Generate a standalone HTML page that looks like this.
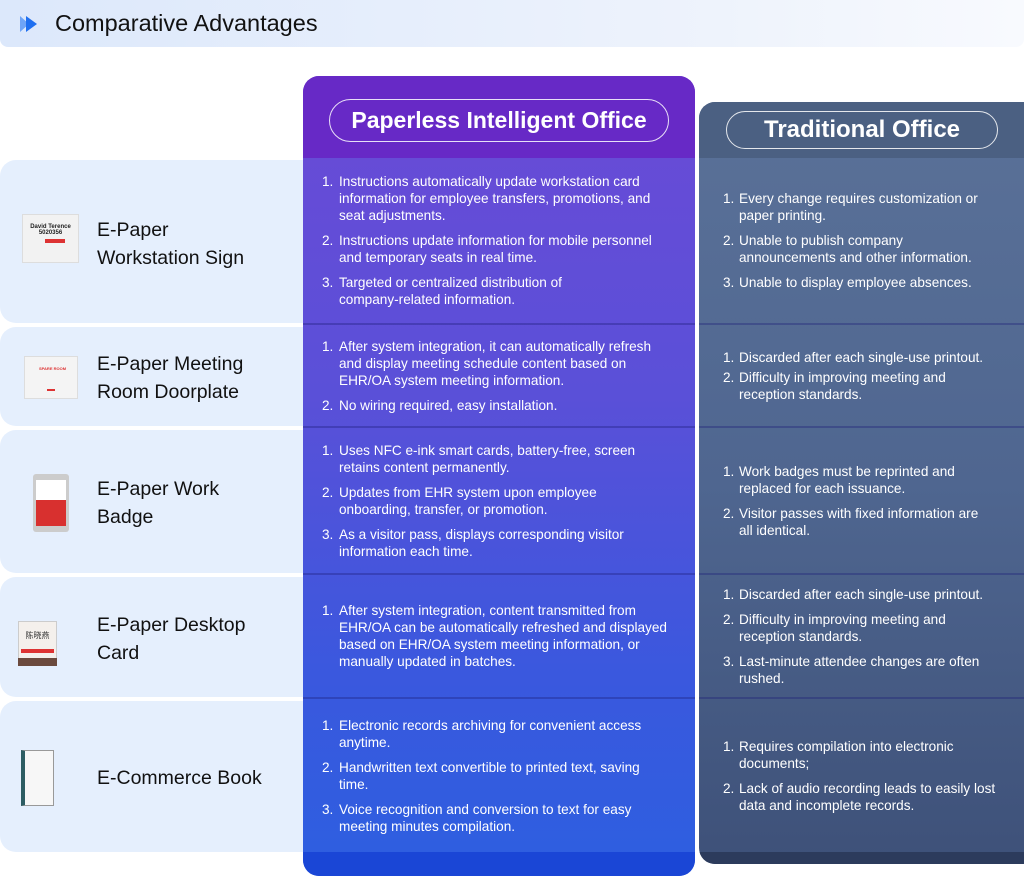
<!DOCTYPE html>
<html><head><meta charset="utf-8"><style>
*{margin:0;padding:0;box-sizing:border-box}
body{width:1024px;height:896px;background:#fff;position:relative;overflow:hidden;font-family:"Liberation Sans","Noto Sans CJK SC",sans-serif}
.hdr{position:absolute;left:0;top:0;width:1024px;height:47px;border-radius:0 0 8px 8px;background:linear-gradient(90deg,#dce8fb,#eef3fc 70%,#f8fafe)}
.hdr .t{position:absolute;left:55px;top:10px;font-size:23.5px;color:#111}
.row{position:absolute;left:0;width:310px;background:#e5effd;border-radius:16px 0 0 16px}
.lab{position:absolute;left:97px;font-size:19.5px;line-height:28px;color:#111}
.ico{position:absolute}
.pcol{position:absolute;left:303px;top:76px;width:392px;height:800px;border-radius:16px;overflow:hidden;background:linear-gradient(180deg,#6a4ad6 0%,#5a50d8 40%,#3a58de 75%,#2d5fe0 100%)}
.tcol{position:absolute;left:699px;top:102px;width:340px;height:762px;border-radius:16px;overflow:hidden;background:linear-gradient(180deg,#5a7198 0%,#4f6690 50%,#3e5179 100%)}
.cell{position:absolute;left:0;right:0;display:flex;flex-direction:column;justify-content:center;border-bottom:2px solid rgba(30,30,120,.35)}
.cell ol{list-style:none;color:#fff;font-size:13.6px;line-height:17px}
.cell li{position:relative;padding-left:36px;white-space:nowrap;margin:8px 0}
.cell li span{position:absolute;left:19px}
.tcol .cell li{padding-left:40px}
.tcol .cell li span{left:24px}
.pill{position:absolute;border:1.5px solid rgba(255,255,255,.85);border-radius:24px;color:#fff;font-weight:bold;text-align:center}
</style></head><body>
<div class="hdr">
<svg style="position:absolute;left:20px;top:15px" width="24" height="18"><polygon points="0,1 9,9 0,17" fill="#6ea4f7"/><polygon points="6,1 17,9 6,17" fill="#1f6ff0"/></svg>
<div class="t">Comparative Advantages</div></div>

<div class="row" style="top:160px;height:163px"></div>
<div class="row" style="top:327px;height:99px"></div>
<div class="row" style="top:430px;height:143px"></div>
<div class="row" style="top:577px;height:120px"></div>
<div class="row" style="top:701px;height:151px"></div>

<div class="ico" style="left:22px;top:214px;width:57px;height:49px;background:#f2f2f2;border:1px solid #ddd"><div style="margin:9px 4px 0;font-size:6px;font-weight:bold;text-align:center;color:#222">David Terence<br>5020356</div><div style="margin:3px 4px;height:4px;background:#d33;width:20px;margin-left:22px"></div></div>
<div class="lab" style="top:216px">E-Paper<br>Workstation Sign</div>

<div class="ico" style="left:24px;top:356px;width:54px;height:43px;background:#f4f4f4;border:1px solid #ddd"><div style="margin:9px 0 0 14px;font-size:4px;color:#d33;font-weight:bold">SPARE ROOM</div><div style="margin:18px 22px 0;height:2px;background:#d33"></div></div>
<div class="lab" style="top:350px">E-Paper Meeting<br>Room Doorplate</div>

<div class="ico" style="left:33px;top:474px;width:36px;height:58px;background:#ccc;border-radius:3px"><div style="margin:6px 3px 0;height:20px;background:#fff"></div><div style="margin:0 3px;height:26px;background:#d8302f"></div></div>
<div class="lab" style="top:475px">E-Paper Work<br>Badge</div>

<div class="ico" style="left:18px;top:621px;width:39px;height:42px;background:#f4f0ec;border:1px solid #ccc"><div style="font-size:8px;text-align:center;margin-top:8px;color:#333">陈晓燕</div><div style="margin:8px 2px 0;height:4px;background:#d33"></div><div style="margin:5px -1px 0;height:8px;background:#6b4a3e"></div></div>
<div class="lab" style="top:611px">E-Paper Desktop<br>Card</div>

<div class="ico" style="left:21px;top:750px;width:33px;height:56px;background:#f7f7f7;border:1px solid #999;border-left:4px solid #2d5d63"></div>
<div class="lab" style="top:764px">E-Commerce Book</div>

<div class="pcol">
<div style="position:absolute;left:0;right:0;top:0;height:82px;background:#6729c6"></div>
<div class="pill" style="left:26px;top:23px;width:340px;height:43px;font-size:23px;line-height:40px">Paperless Intelligent Office</div>
<div class="cell" style="top:82px;height:167px"><ol>
<li><span>1.</span>Instructions automatically update workstation card<br>information for employee transfers, promotions, and<br>seat adjustments.</li>
<li><span>2.</span>Instructions update information for mobile personnel<br>and temporary seats in real time.</li>
<li><span>3.</span>Targeted or centralized distribution of<br>company-related information.</li></ol></div>
<div class="cell" style="top:249px;height:103px"><ol>
<li><span>1.</span>After system integration, it can automatically refresh<br>and display meeting schedule content based on<br>EHR/OA system meeting information.</li>
<li><span>2.</span>No wiring required, easy installation.</li></ol></div>
<div class="cell" style="top:352px;height:147px"><ol>
<li><span>1.</span>Uses NFC e-ink smart cards, battery-free, screen<br>retains content permanently.</li>
<li><span>2.</span>Updates from EHR system upon employee<br>onboarding, transfer, or promotion.</li>
<li><span>3.</span>As a visitor pass, displays corresponding visitor<br>information each time.</li></ol></div>
<div class="cell" style="top:499px;height:124px"><ol>
<li><span>1.</span>After system integration, content transmitted from<br>EHR/OA can be automatically refreshed and displayed<br>based on EHR/OA system meeting information, or<br>manually updated in batches.</li></ol></div>
<div class="cell" style="top:623px;height:153px;border:none"><ol>
<li><span>1.</span>Electronic records archiving for convenient access<br>anytime.</li>
<li><span>2.</span>Handwritten text convertible to printed text, saving<br>time.</li>
<li><span>3.</span>Voice recognition and conversion to text for easy<br>meeting minutes compilation.</li></ol></div>
<div style="position:absolute;left:0;right:0;top:776px;height:24px;background:#1a46d6"></div>
</div>

<div class="tcol">
<div style="position:absolute;left:0;right:0;top:0;height:56px;background:#4b6082"></div>
<div class="pill" style="left:27px;top:9px;width:272px;height:38px;font-size:24px;line-height:35px">Traditional Office</div>
<div class="cell" style="top:56px;height:167px"><ol>
<li><span>1.</span>Every change requires customization or<br>paper printing.</li>
<li><span>2.</span>Unable to publish company<br>announcements and other information.</li>
<li><span>3.</span>Unable to display employee absences.</li></ol></div>
<div class="cell" style="top:223px;height:103px"><ol>
<li style="margin:3px 0"><span>1.</span>Discarded after each single-use printout.</li>
<li style="margin:3px 0"><span>2.</span>Difficulty in improving meeting and<br>reception standards.</li></ol></div>
<div class="cell" style="top:326px;height:147px"><ol>
<li><span>1.</span>Work badges must be reprinted and<br>replaced for each issuance.</li>
<li><span>2.</span>Visitor passes with fixed information are<br>all identical.</li></ol></div>
<div class="cell" style="top:473px;height:124px"><ol>
<li><span>1.</span>Discarded after each single-use printout.</li>
<li><span>2.</span>Difficulty in improving meeting and<br>reception standards.</li>
<li><span>3.</span>Last-minute attendee changes are often<br>rushed.</li></ol></div>
<div class="cell" style="top:597px;height:153px;border:none"><ol>
<li><span>1.</span>Requires compilation into electronic<br>documents;</li>
<li><span>2.</span>Lack of audio recording leads to easily lost<br>data and incomplete records.</li></ol></div>
<div style="position:absolute;left:0;right:0;top:750px;height:12px;background:#2c3b5c"></div>
</div>
</body></html>
